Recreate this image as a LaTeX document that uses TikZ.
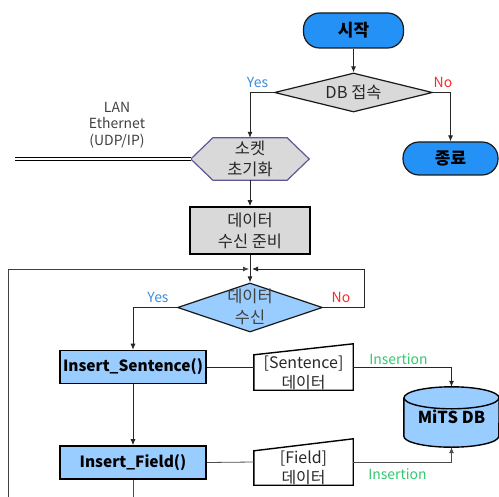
\documentclass[tikz,border=0pt]{standalone}
\usepackage{fontspec}
\setmainfont{Noto Sans CJK KR}
\usetikzlibrary{arrows.meta,shapes.geometric,calc,backgrounds}

\definecolor{termblue}{RGB}{35,145,245}
\definecolor{procblue}{RGB}{153,204,255}
\definecolor{boxgray}{RGB}{217,217,217}
\definecolor{hexline}{RGB}{100,85,150}
\definecolor{yescol}{RGB}{60,140,220}
\definecolor{nocol}{RGB}{255,40,40}
\definecolor{inscol}{RGB}{50,200,110}
\definecolor{inkgray}{RGB}{40,40,40}

\begin{document}
\begin{tikzpicture}[x=1bp,y=-1bp,
  conn/.style={line width=0.8bp, draw=black!85},
  arr/.style={conn, -{Latex[length=6bp,width=5bp]}},
  term/.style={draw=black!90, line width=1.2bp, fill=termblue, rounded corners=16bp,
    inner sep=0pt, font=\bfseries\fontsize{17}{20}\selectfont, text=black},
  decide/.style={diamond, draw=black!90, line width=1.2bp, inner sep=0pt},
  txt/.style={align=center, text=inkgray, font=\fontsize{16.5}{21}\selectfont},
  procbox/.style={draw=black, line width=1.6bp, fill=procblue, inner sep=0pt,
    minimum width=146bp, minimum height=33bp, font=\bfseries\fontsize{15.5}{18}\selectfont},
  ghost/.style={draw=none, inner sep=0pt},
  yeslbl/.style={text=yescol, font=\fontsize{14}{16}\selectfont, inner sep=0pt},
  nolbl/.style={text=nocol, font=\fontsize{14}{16}\selectfont, inner sep=0pt},
  inslbl/.style={text=inscol, font=\fontsize{14}{16}\selectfont, inner sep=0pt}
]
\useasboundingbox (0,0) rectangle (499,497);

% terminals
\node[term, minimum width=100bp, minimum height=35bp] (start) at (353.5,30.5) {시작};
\node[term, minimum width=95bp, minimum height=33bp] (end) at (450.5,158.5) {종료};

% DB connection decision
\node[decide, fill=boxgray, minimum width=158bp, minimum height=39bp, aspect=4] (dbc) at (353.5,92.5) {};
\node[txt] (dbctext) at (dbc.center) {DB 접속};

% socket initialisation (hexagon drawn on the background layer)
\node[ghost, txt, minimum width=118bp, minimum height=42bp] (sock) at (250,159) {소켓\\초기화};

% prepare to receive
\node[draw=black, line width=1.6bp, fill=boxgray, minimum width=120bp, minimum height=47bp,
  inner sep=0pt, txt] (prep) at (250,230.5) {데이터\\수신 준비};

% data received decision
\node[decide, fill=procblue, minimum width=145bp, minimum height=49bp, aspect=3] (recv) at (250,307.5) {};
\node[txt, text=black!75] (recvtext) at (250,307) {데이터\\수신};

% insertion routines
\node[procbox] (ins) at (133,367) {Insert\_Sentence()};
\node[procbox] (fld) at (133,462.5) {Insert\_Field()};

% manual-input data shapes
\node[ghost, minimum width=99bp, minimum height=46bp] (sdata) at (303.5,367) {};
\node[txt, font=\fontsize{16}{20}\selectfont] (sdatatext) at (303.5,372.5) {[Sentence]\\데이터};
\node[ghost, minimum width=99bp, minimum height=46bp] (fdata) at (303.5,462) {};
\node[txt, font=\fontsize{16}{20}\selectfont] (fdatatext) at (303.5,467.5) {[Field]\\데이터};

% database
\node[ghost, minimum width=95bp, minimum height=60bp, font=\bfseries\fontsize{16.5}{19}\selectfont]
  (db) at (451.5,417) {MiTS DB};

% network label
\node[align=center, text=black!75, font=\fontsize{14}{16.5}\selectfont] (lan) at (117,125)
  {LAN\\Ethernet\\(UDP/IP)};

\begin{scope}[on background layer]
  % hexagon
  \draw[fill=boxgray, draw=hexline, line width=1.2bp]
    (sock.west) -- ($(sock.north west)+(22,0)$) -- ($(sock.north east)+(-22,0)$)
    -- (sock.east) -- ($(sock.south east)+(-22,0)$) -- ($(sock.south west)+(22,0)$) -- cycle;
  % manual-input shapes
  \draw[fill=white, draw=black, line width=1.4bp]
    (sdata.south west) -- (sdata.south east) -- (sdata.north east)
    -- ($(sdata.north west)+(0,11)$) -- cycle;
  \draw[fill=white, draw=black, line width=1.4bp]
    (fdata.south west) -- (fdata.south east) -- (fdata.north east)
    -- ($(fdata.north west)+(0,12)$) -- cycle;
  % cylinder: body with its lower rim, then the full top ellipse
  \draw[fill=procblue, draw=black, line width=1.4bp]
    ($(db.north west)+(0,11)$) -- ($(db.south west)+(0,-11)$)
    arc[start angle=180, end angle=360, x radius=47.5bp, y radius=11bp]
    -- ($(db.north east)+(0,11)$);
  \draw[fill=procblue, draw=black, line width=1.4bp]
    ($(db.north)+(0,11)$) ellipse[x radius=47.5bp, y radius=11bp];
\end{scope}

% connectors
\draw[arr] (start.south) -- (dbc.north);
\draw[arr] (dbc.west) -| (sock.north);
\draw[arr] (dbc.east) -| (end.north);
\node[yeslbl] (yes1) at (257.5,82) {Yes};
\node[nolbl] (no1) at (443,82.5) {No};

\coordinate (lanend) at (15,159);
\draw[double=white, draw=black, line width=1.1bp, double distance=1.5bp] (sock.west) -- (sock.west -| lanend);

\draw[arr] (sock.south) -- (prep.north);
\draw[arr] (prep.south) -- (recv.north);

\coordinate (jn) at (250,269);
\coordinate (loopbase) at (8,497);
\draw[arr, draw=black!75] (loopbase) |- ([xshift=-1bp]jn);
\draw[arr] (recv.east) -- ++(41,0) |- ([xshift=2bp]jn);
\node[nolbl] (no2) at (341,297.5) {No};

\draw[arr] (recv.west) -| (ins.north);
\node[yeslbl] (yes2) at (158,297.5) {Yes};

\draw[arr] (ins.south) -- (fld.north);
\coordinate (fldbase) at (133,497);
\draw[conn, draw=black!70] (fld.south) -- (fldbase);

\draw[conn] (ins.east) -- (sdata.west);
\draw[conn, draw=black!70] (fld.east) -- (fdata.west);

\draw[arr] (sdata.east) -| (db.north);
\node[inslbl] (ins1) at (398.5,359) {Insertion};
\draw[arr, draw=black!70] (fdata.east) -| (db.south);
\node[inslbl] (ins2) at (397.5,474) {Insertion};
\end{tikzpicture}
\end{document}
